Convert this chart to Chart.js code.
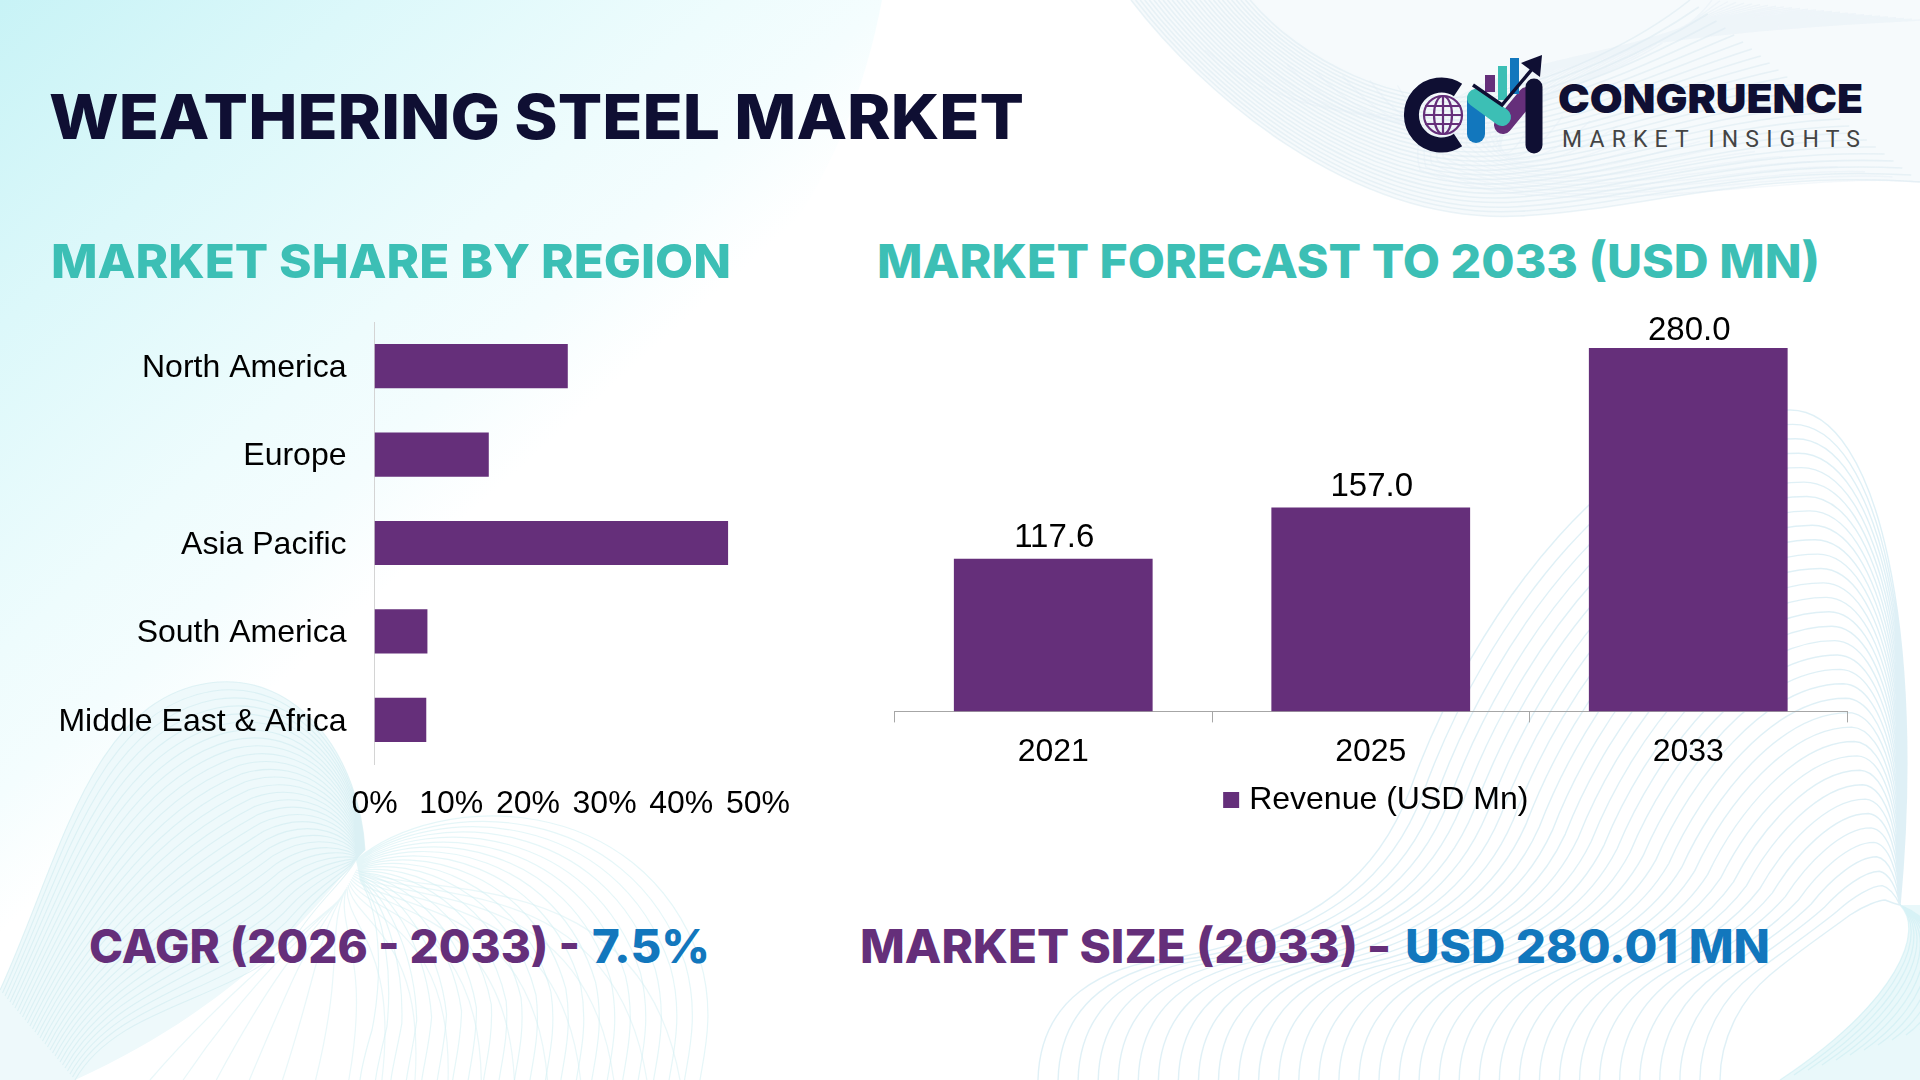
<!DOCTYPE html>
<html>
<head>
<meta charset="utf-8">
<title>Weathering Steel Market</title>
<script src="https://cdn.jsdelivr.net/npm/chart.js@4/dist/chart.umd.min.js"></script>
<style>
  html, body { margin: 0; padding: 0; background: #fff; }
  #page { position: relative; width: 1920px; height: 1080px; overflow: hidden; background: #fff; }
  #bg { position: absolute; left: 0; top: 0; }
  canvas { position: absolute; }
  #regionChart { left: 0; top: 300px; }
  #forecastChart { left: 860px; top: 300px; }
  .head { font-family: Inter, sans-serif; font-weight: 800; }
</style>
</head>
<body>
<div id="page">
  <svg id="bg" width="1920" height="1080" viewBox="0 0 1920 1080" xmlns="http://www.w3.org/2000/svg">
    <defs>
      <linearGradient id="tint" gradientUnits="userSpaceOnUse" x1="0" y1="0" x2="464" y2="519">
        <stop offset="0" stop-color="#c8f3f6"/>
        <stop offset="0.35" stop-color="#dcf8fa"/>
        <stop offset="0.7" stop-color="#eefcfd"/>
        <stop offset="0.85" stop-color="#f4fdfe"/>
        <stop offset="1" stop-color="#ffffff"/>
      </linearGradient>
    </defs>
    <path d="M0,0 L882,0 C865,90 830,180 770,260 L0,1000 Z" fill="url(#tint)"/>
    <!-- soft tinted areas under the line fields -->
    <path d="M1131,0 C1200,90 1350,225 1520,216 C1640,210 1750,170 1920,182 L1920,0 Z" fill="#f6fafc"/>
    <path d="M0,990 C60,860 90,700 209,683 C300,670 360,760 365,850 L356,860 C320,900 250,1000 75,1080 L0,1080 Z" fill="#eef9fb"/>
    <path d="M1900,905 C1925,930 1900,1000 1780,1080 L1920,1080 L1920,905 Z" fill="#e9f8fa"/>
    <g id="waves" fill="none"></g>

    <text class="head" x="49" y="139" font-size="62" fill="#0f0f33" textLength="975" lengthAdjust="spacingAndGlyphs">WEATHERING STEEL MARKET</text>
    <text class="head" x="51" y="278" font-size="47" fill="#3cbfb5" textLength="680" lengthAdjust="spacingAndGlyphs">MARKET SHARE BY REGION</text>
    <text class="head" x="877" y="278" font-size="47" fill="#3cbfb5" textLength="943" lengthAdjust="spacingAndGlyphs">MARKET FORECAST TO 2033 (USD MN)</text>
    <text class="head" x="89" y="963" font-size="46" fill="#652f7a" textLength="491" lengthAdjust="spacingAndGlyphs">CAGR (2026 - 2033) -</text>
    <text class="head" x="592" y="963" font-size="46" fill="#1277bd" textLength="118" lengthAdjust="spacingAndGlyphs">7.5%</text>
    <text class="head" x="860" y="963" font-size="46" fill="#652f7a" textLength="498" lengthAdjust="spacingAndGlyphs">MARKET SIZE (2033)</text>
    <text class="head" x="1370" y="963" font-size="46" fill="#652f7a" textLength="18" lengthAdjust="spacingAndGlyphs">–</text>
    <text class="head" x="1405" y="963" font-size="46" fill="#1277bd" textLength="365" lengthAdjust="spacingAndGlyphs">USD 280.01 MN</text>

    <!-- logo -->
    <g fill="none" stroke-linecap="round">
      <path d="M1458,90 A30,30 0 1 0 1458,140" stroke="#0f0f33" stroke-width="15" stroke-linecap="butt"/>
      <g stroke="#652f7a" stroke-width="2.2">
        <circle cx="1443" cy="115" r="19"/>
        <ellipse cx="1443" cy="115" rx="9" ry="19"/>
        <path d="M1443,96 V134 M1426,106 H1460 M1424,115 H1462 M1426,124 H1460"/>
      </g>
      <path d="M1476,134 V100" stroke="#1277bd" stroke-width="18"/>
      <path d="M1503,125 L1527,96" stroke="#652f7a" stroke-width="18"/>
      <path d="M1476,98 L1502,117" stroke="#3cbfb5" stroke-width="18"/>
      <path d="M1534,87 V145" stroke="#0f0f33" stroke-width="17"/>
    </g>
    <rect x="1485" y="75" width="10" height="17" fill="#652f7a"/>
    <rect x="1498" y="66" width="9" height="34" fill="#3cbfb5"/>
    <rect x="1510" y="58" width="9" height="36" fill="#1277bd"/>
    <path d="M1473,85 L1502,105 L1533,68" fill="none" stroke="#0f0f33" stroke-width="3.5"/>
    <path d="M1542,55 L1521,63 L1540,77 Z" fill="#0f0f33"/>
    <text x="1558" y="113" font-family="Inter, sans-serif" font-weight="900" font-size="40" fill="#0f0f33" textLength="305" lengthAdjust="spacingAndGlyphs">CONGRUENCE</text>
    <text x="1562" y="147" font-family="Roboto, sans-serif" font-weight="400" font-size="23" fill="#444444" textLength="298" lengthAdjust="spacing">MARKET INSIGHTS</text>
  </svg>
  <canvas id="regionChart" width="820" height="540"></canvas>
  <canvas id="forecastChart" width="1030" height="540"></canvas>
</div>

<script>
const regions = ["North America", "Europe", "Asia Pacific", "South America", "Middle East & Africa"];
const regionShare = [25.2, 14.9, 46.1, 6.9, 6.75];

const years = ["2021", "2025", "2033"];
const revenue = [117.6, 157.0, 280.0];

const PURPLE = "#652f7a";
const FONT = "'Liberation Sans', Arial, sans-serif";

// -------- Background line fields --------
// every curve is a blend between an outer and an inner path
function field(outer, inner, n, color, opacity, width) {
  const g = document.getElementById("waves");
  let d = "";
  for (let i = 0; i <= n; i++) {
    const t = i / n;
    const p = outer.map((v, k) => (v + (inner[k] - v) * t).toFixed(1));
    d += "M" + p[0] + "," + p[1] + " C";
    for (let k = 2; k < p.length; k += 2) d += p[k] + "," + p[k + 1] + " ";
  }
  const path = document.createElementNS("http://www.w3.org/2000/svg", "path");
  path.setAttribute("d", d);
  path.setAttribute("stroke", color);
  path.setAttribute("stroke-opacity", opacity);
  path.setAttribute("stroke-width", width);
  g.appendChild(path);
}

// top right
field([1131,0, 1200,90, 1350,225, 1520,216, 1640,210, 1750,170, 1920,182],
      [1250,0, 1300,60, 1400,110, 1480,95, 1560,80, 1640,40, 1690,0], 26, "#dbe9f1", 0.55, 1.6);
field([1205,50, 1300,130, 1440,130, 1570,87, 1640,60, 1690,30, 1712,0],
      [1920,182, 1780,170, 1560,230, 1420,170, 1400,100, 1500,40, 1920,20], 26, "#dfecf3", 0.35, 1.4);
// bottom left mesh
field([0,990, 60,860, 90,700, 209,683, 300,670, 360,760, 365,850],
      [75,1080, 120,1000, 250,1000, 300,930, 320,900, 345,880, 356,860], 30, "#cce9ef", 0.55, 1.1);
// bottom left arcs
field([356,860, 440,790, 640,790, 700,960, 715,1010, 705,1050, 700,1080],
      [360,880, 385,920, 380,990, 372,1030, 366,1050, 362,1065, 360,1080], 22, "#d3f0f3", 0.6, 1.2);
field([356,870, 430,900, 640,860, 680,1080, 680,1080, 680,1080, 680,1080],
      [340,900, 280,950, 210,1010, 150,1080, 150,1080, 150,1080, 150,1080], 16, "#d3f0f3", 0.5, 1.2);
// bottom right
field([1038,1080, 1040,1000, 1100,965, 1180,957, 1320,930, 1380,870, 1410,790, 1470,620, 1620,410, 1790,410, 1880,410, 1925,640, 1900,905],
      [1720,1080, 1720,1040, 1740,1000, 1770,975, 1800,950, 1830,930, 1850,915, 1865,905, 1880,900, 1885,900, 1890,902, 1895,904, 1900,905], 34, "#d2e9f2", 0.7, 1.4);
field([1900,905, 1925,930, 1900,1000, 1780,1080, 1780,1080, 1780,1080, 1780,1080],
      [1900,905, 1960,930, 1960,1000, 1920,1030, 1920,1030, 1920,1030, 1920,1030], 10, "#c5ecf1", 0.5, 1.2);

// -------- Charts --------
Chart.defaults.font.family = FONT;
Chart.defaults.font.size = 32;
Chart.defaults.color = "#000";
Chart.defaults.animation = false;

const barLabels = {
  id: "barLabels",
  afterLayout(chart) {
    // legend sits a little right of the plot centre in the source
    chart.legend.left += 8;
    chart.legend.right += 8;
  },
  afterDatasetsDraw(chart) {
    const ctx = chart.ctx;
    ctx.save();
    ctx.font = "33px " + FONT;
    ctx.fillStyle = "#000";
    ctx.textAlign = "center";
    ctx.textBaseline = "alphabetic";
    chart.getDatasetMeta(0).data.forEach((bar, i) => {
      // the tallest bar has its label sitting closer, same as the source
      const gap = i === revenue.length - 1 ? 8 : 12;
      ctx.fillText(revenue[i].toFixed(1), bar.x + 1, bar.y - gap);
    });
    ctx.restore();
  }
};

new Chart(document.getElementById("regionChart"), {
  type: "bar",
  data: {
    labels: regions,
    datasets: [{
      data: regionShare,
      backgroundColor: PURPLE,
      barPercentage: 0.5,
      categoryPercentage: 1
    }]
  },
  options: {
    indexAxis: "y",
    responsive: false,
    layout: { padding: { top: 22, right: 62 } },
    plugins: { legend: { display: false }, tooltip: { enabled: false } },
    scales: {
      x: {
        min: 0,
        max: 50,
        grid: { display: false, drawTicks: false },
        border: { display: false },
        afterFit(scale) { scale.height = 76; },
        ticks: {
          stepSize: 10,
          padding: 21,
          maxRotation: 0,
          autoSkip: false,
          callback: v => v + "%"
        }
      },
      y: {
        grid: { display: false, drawTicks: false },
        border: { display: true, color: "#d4d4d4", width: 1 },
        afterFit(scale) {
          scale.width = 374.5;
          scale.paddingTop = 0;
          scale.paddingBottom = 0;
        },
        ticks: { padding: 28, autoSkip: false, labelOffset: 2 }
      }
    }
  }
});

new Chart(document.getElementById("forecastChart"), {
  type: "bar",
  data: {
    labels: years,
    datasets: [{
      label: "Revenue (USD Mn)",
      data: revenue,
      backgroundColor: PURPLE,
      barPercentage: 0.626,
      categoryPercentage: 1
    }]
  },
  options: {
    responsive: false,
    layout: { padding: { top: 22, left: 34.5, right: 43, bottom: 14 } },
    plugins: {
      tooltip: { enabled: false },
      legend: {
        position: "bottom",
        labels: {
          boxWidth: 4,
          boxHeight: 4,
          padding: 6,
          font: { size: 32 },
          // thick outline makes a 16px square while keeping the text close to it
          generateLabels(chart) {
            return Chart.defaults.plugins.legend.labels.generateLabels(chart).map(item => {
              item.lineWidth = 12;
              item.strokeStyle = PURPLE;
              return item;
            });
          }
        }
      }
    },
    scales: {
      x: {
        grid: { offset: true, drawOnChartArea: false, drawTicks: true, tickLength: 11, color: "#a6a6a6" },
        border: { display: true, color: "#a6a6a6", width: 1 },
        afterFit(scale) { scale.height = 66.6; },
        ticks: { padding: 11, maxRotation: 0, autoSkip: false }
      },
      y: { display: false, min: 0, max: 300 }
    }
  },
  plugins: [barLabels]
});
</script>
</body>
</html>
